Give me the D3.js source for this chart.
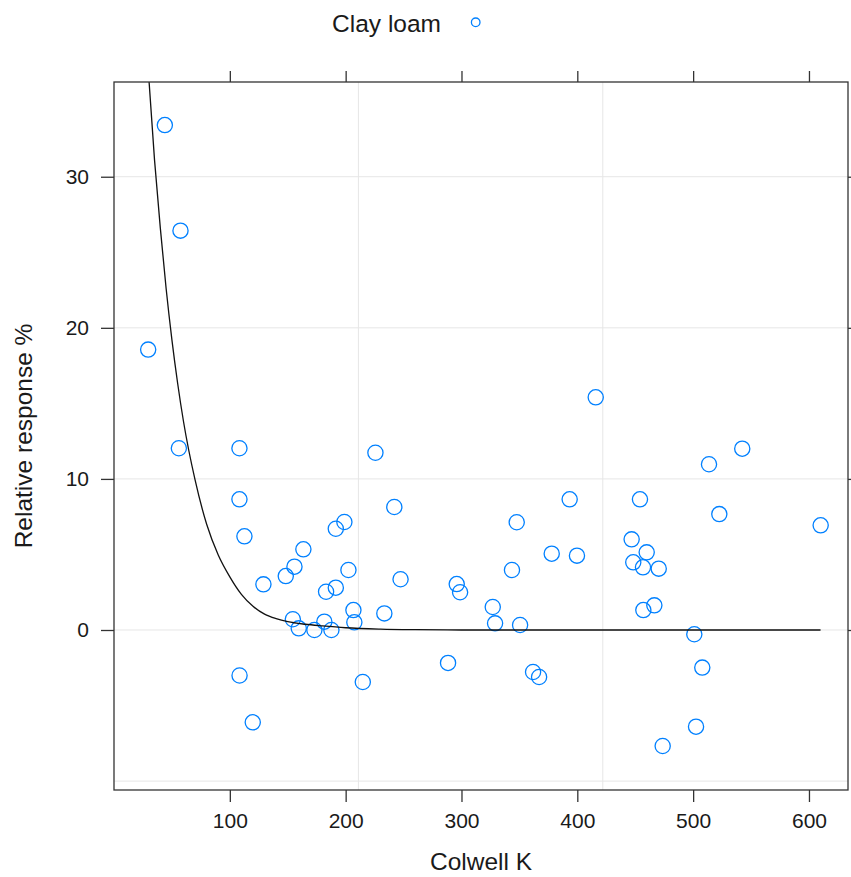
<!DOCTYPE html>
<html>
<head>
<meta charset="utf-8">
<script src="https://cdn.jsdelivr.net/npm/d3@7"></script>
<style>
  body { margin: 0; background: #fff; }
  text { font-family: "Liberation Sans", Arial, Helvetica, sans-serif; fill: #1a1a1a; }
</style>
</head>
<body>
<svg id="chart" width="851" height="877"></svg>
<script>
// ---- data ----
const colwellK = [43.9, 57.4, 29.5, 56.0, 108.3, 108.3, 112.6, 129.0, 108.4, 119.8,
  148.3, 155.8, 163.5, 154.4, 159.5, 173.0, 181.6, 187.7, 183.1, 191.5,
  191.5, 198.9, 202.4, 206.7, 207.5, 214.8, 225.7, 233.4, 242.0, 247.4,
  288.4, 295.9, 298.8, 327.0, 329.0, 347.7, 343.6, 350.6, 361.8, 367.0,
  377.9, 393.4, 399.7, 415.9, 446.9, 448.3, 454.1, 456.7, 459.9, 457.0,
  466.5, 470.3, 501.0, 507.9, 502.5, 473.7, 513.7, 522.6, 542.4, 610.1];
const relResponse = [33.42, 26.43, 18.56, 12.03, 12.03, 8.65, 6.2, 3.02, -3.01, -6.11,
  3.57, 4.19, 5.34, 0.71, 0.11, 0.0, 0.55, 0.0, 2.53, 2.8,
  6.7, 7.15, 3.97, 1.32, 0.51, -3.44, 11.73, 1.1, 8.14, 3.36,
  -2.18, 3.04, 2.5, 1.52, 0.44, 7.13, 3.97, 0.33, -2.78, -3.11,
  5.05, 8.65, 4.92, 15.4, 6.0, 4.48, 8.65, 4.15, 5.14, 1.32,
  1.63, 4.06, -0.28, -2.49, -6.4, -7.68, 10.97, 7.67, 12.0, 6.93];

// fitted response curve
const fitX = [28, 30, 35, 40, 45, 50, 55, 60, 70, 80, 90, 100, 110, 120, 130, 140, 150, 165, 180, 200, 230, 260, 300, 400, 500, 610];
const fitY = [39.0, 36.6, 31.1, 26.6, 22.6, 19.2, 16.3, 13.8, 9.93, 7.0, 4.97, 3.52, 2.36, 1.57, 1.05, 0.75, 0.55, 0.38, 0.27, 0.15, 0.06, 0.02, 0, 0, 0, 0];

const xTicks = [100, 200, 300, 400, 500, 600];
const yTicks = [0, 10, 20, 30];
const yGridVals = [-10, 0, 10, 20, 30];
const xGridVals = [211, 422];
const xDomain = [0, 633.7];
const yDomain = [-10.59, 36.27];
const legendLabel = "Clay loam";
const xTitle = "Colwell K";
const yTitle = "Relative response %";

// ---- layout ----
const svg = d3.select("#chart");
const L = 114, R = 848, T = 82, B = 790;
const x = d3.scaleLinear().domain(xDomain).range([L, R]);
const y = d3.scaleLinear().domain(yDomain).range([B, T]);

const pointCol = "#0080ff";
const axisCol = "#333";

svg.append("rect").attr("width", 851).attr("height", 877).attr("fill", "#fff");

svg.append("defs").append("clipPath").attr("id", "panel")
  .append("rect").attr("x", L).attr("y", T).attr("width", R - L).attr("height", B - T);

// grid
const grid = svg.append("g");
grid.selectAll(".hg").data(yGridVals).join("line")
  .attr("x1", L).attr("x2", R).attr("y1", d => y(d)).attr("y2", d => y(d))
  .attr("stroke", "#e6e6e6").attr("stroke-width", 1);
grid.selectAll(".vg").data(xGridVals).join("line")
  .attr("x1", d => x(d)).attr("x2", d => x(d)).attr("y1", T).attr("y2", B)
  .attr("stroke", "#e6e6e6").attr("stroke-width", 1);

// points
svg.append("g").selectAll("circle").data(colwellK.map((v, i) => [v, relResponse[i]]))
  .join("circle")
  .attr("cx", d => x(d[0])).attr("cy", d => y(d[1])).attr("r", 7.6)
  .attr("fill", "none").attr("stroke", pointCol).attr("stroke-width", 1.3);

// curve
const line = d3.line().x(d => x(d[0])).y(d => y(d[1])).curve(d3.curveMonotoneX);
svg.append("path").attr("clip-path", "url(#panel)")
  .datum(fitX.map((v, i) => [v, fitY[i]]))
  .attr("d", line).attr("fill", "none").attr("stroke", "#111").attr("stroke-width", 1.3);

// axes
function styleAxis(g) {
  g.select(".domain").remove();
  g.selectAll(".tick line").attr("stroke", axisCol).attr("stroke-width", 1.3);
  g.selectAll(".tick text").attr("font-size", 21).attr("fill", "#1a1a1a")
    .attr("font-family", "'Liberation Sans', Arial, sans-serif");
}
svg.append("g").attr("transform", `translate(0,${B})`)
  .call(d3.axisBottom(x).tickValues(xTicks).tickSize(12).tickPadding(11).tickFormat(d3.format("d")))
  .call(styleAxis);
svg.append("g").attr("transform", `translate(0,${T})`)
  .call(d3.axisTop(x).tickValues(xTicks).tickSize(11).tickFormat(""))
  .call(styleAxis);
svg.append("g").attr("transform", `translate(${L},0)`)
  .call(d3.axisLeft(y).tickValues(yTicks).tickSize(13).tickPadding(12).tickFormat(d3.format("d")))
  .call(styleAxis);
svg.append("g").attr("transform", `translate(${R},0)`)
  .call(d3.axisRight(y).tickValues(yTicks).tickSize(12).tickFormat(""))
  .call(styleAxis);

// panel box
svg.append("rect").attr("x", L).attr("y", T).attr("width", R - L).attr("height", B - T)
  .attr("fill", "none").attr("stroke", axisCol).attr("stroke-width", 1.3);

// titles
svg.append("text").attr("x", (L + R) / 2).attr("y", 870).attr("text-anchor", "middle")
  .attr("font-size", 24.5).text(xTitle);
svg.append("text").attr("transform", `translate(32,${(T + B) / 2}) rotate(-90)`)
  .attr("text-anchor", "middle").attr("font-size", 24.5).text(yTitle);

// legend
svg.append("text").attr("x", 441).attr("y", 32).attr("text-anchor", "end")
  .attr("font-size", 24.5).text(legendLabel);
svg.append("circle").attr("cx", 475.7).attr("cy", 22.3).attr("r", 4.3)
  .attr("fill", "none").attr("stroke", pointCol).attr("stroke-width", 1.3);
</script>
</body>
</html>
